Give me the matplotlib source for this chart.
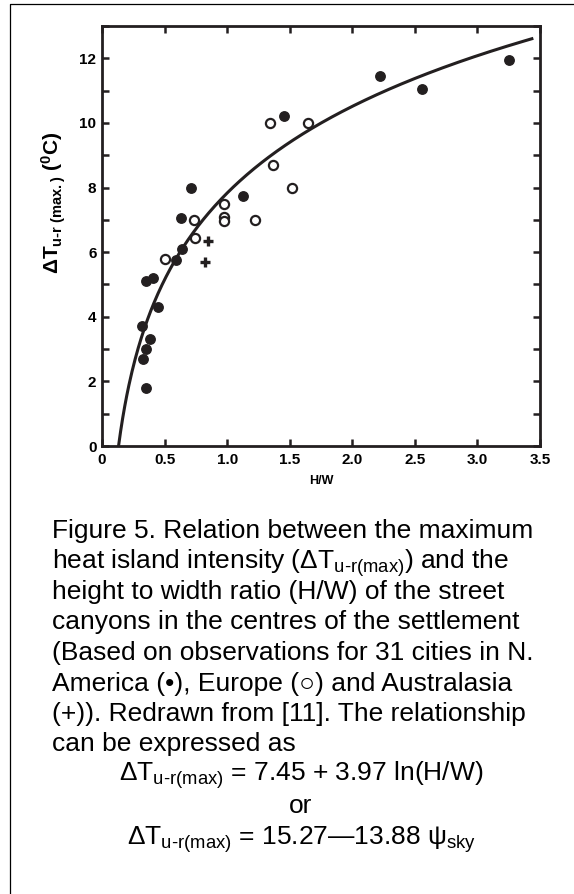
import numpy as np
import matplotlib
matplotlib.use('Agg')
import matplotlib.pyplot as plt
from matplotlib.lines import Line2D
from matplotlib.ticker import MultipleLocator

plt.rcParams['font.family'] = ['Liberation Sans', 'DejaVu Sans']
plt.rcParams['mathtext.fontset'] = 'custom'
plt.rcParams['mathtext.rm'] = 'Liberation Sans'
plt.rcParams['mathtext.it'] = 'Liberation Sans:italic'
plt.rcParams['mathtext.bf'] = 'Liberation Sans:bold'

# N. America (filled circles)
am_hw = [0.32, 0.33, 0.35, 0.35, 0.385, 0.35, 0.405, 0.45, 0.595, 0.64, 0.635,
         0.715, 1.125, 1.455, 2.22, 2.56, 3.255]
am_dt = [3.7, 2.7, 3.0, 1.8, 3.3, 5.1, 5.2, 4.3, 5.75, 6.1, 7.05,
         8.0, 7.75, 10.2, 11.45, 11.05, 11.95]
# Europe (open circles)
eu_hw = [0.50, 0.735, 0.74, 0.975, 0.975, 0.975, 1.22, 1.34, 1.37, 1.52, 1.65]
eu_dt = [5.8, 7.0, 6.45, 7.5, 7.1, 6.95, 7.0, 10.0, 8.7, 8.0, 10.0]
# Australasia (+)
au_hw = [0.845, 0.82]
au_dt = [6.35, 5.7]

# fitted curve dT = a + b ln(H/W), as drawn
fit_a, fit_b = 7.83, 3.87
fit_end = 3.435

xticks = [0, 0.5, 1.0, 1.5, 2.0, 2.5, 3.0, 3.5]
xticklabels = ['0', '0.5', '1.0', '1.5', '2.0', '2.5', '3.0', '3.5']
yticks = [0, 2, 4, 6, 8, 10, 12]

ink = '#231f20'
W, H = 574, 894
fig = plt.figure(figsize=(W / 100, H / 100), dpi=100)

# frame lines of the page
fig.add_artist(Line2D([10 / W, 10 / W, 1.0], [0.0, 1 - 4 / H, 1 - 4 / H],
                      transform=fig.transFigure, color='black', lw=0.9))

ax = fig.add_axes([102 / W, 1 - 446 / H, 438 / W, 420 / H])

xc = np.linspace(np.exp(-fit_a / fit_b), fit_end, 400)
ax.plot(xc, fit_a + fit_b * np.log(xc), color=ink, lw=2.2, zorder=2)

ax.plot(am_hw, am_dt, 'o', ms=6.8, color=ink, mec=ink, zorder=3)
ax.plot(eu_hw, eu_dt, 'o', ms=6.6, mfc='white', mec=ink, mew=1.6, zorder=3)
ax.plot(au_hw, au_dt, '+', ms=7.5, mec=ink, mew=2.4, zorder=3)

ax.set_xlim(0, 3.5)
ax.set_ylim(0, 13)
ax.set_xticks(xticks)
ax.set_xticklabels(xticklabels)
ax.set_yticks(yticks)
ax.yaxis.set_minor_locator(MultipleLocator(1))

for s in ax.spines.values():
    s.set_linewidth(2.0)
    s.set_color(ink)
ax.tick_params(which='both', direction='in', top=True, right=True,
               width=1.8, length=5, color=ink, labelsize=11)
ax.tick_params(axis='y', pad=4)
ax.tick_params(axis='x', pad=5)
for lbl in ax.get_xticklabels() + ax.get_yticklabels():
    lbl.set_fontweight('bold')

ax.set_xlabel('H/W', fontsize=9, fontweight='bold', labelpad=6)
fig.text(54 / W, 1 - 203 / H,
         r'$\mathbf{\Delta T}_{\mathbf{u‐r\ (max.)}}\ \mathbf{(^0C)}$',
         rotation=90, ha='center', va='center', fontsize=15)

cap = [
    'Figure 5. Relation between the maximum',
    r'heat island intensity ($\Delta\mathrm{T}_{\mathrm{u‐r(max)}}$) and the',
    'height to width ratio (H/W) of the street',
    'canyons in the centres of the settlement',
    '(Based on observations for 31 cities in N.',
    'America (•), Europe (○) and Australasia',
    '(+)). Redrawn from [11]. The relationship',
    'can be expressed as',
]
cap_y = [538, 568.5, 599, 629.5, 660, 690.5, 721, 751.5]
for t, yy in zip(cap, cap_y):
    fig.text(52 / W, 1 - yy / H, t, fontsize=19, ha='left', va='baseline',
             color='black')

eqs = [
    r'$\Delta\mathrm{T}_{\mathrm{u‐r(max)}}$ = 7.45 + 3.97 ln(H/W)',
    'or',
    r'$\Delta\mathrm{T}_{\mathrm{u‐r(max)}}$ = 15.27—13.88 $\mathrm{ψ}_{\mathrm{sky}}$',
]
eq_y = [781, 813, 845]
for t, yy in zip(eqs, eq_y):
    fig.text(301 / W, 1 - yy / H, t, fontsize=19, ha='center', va='baseline',
             color='black')

fig.savefig('out.png', dpi=100)
